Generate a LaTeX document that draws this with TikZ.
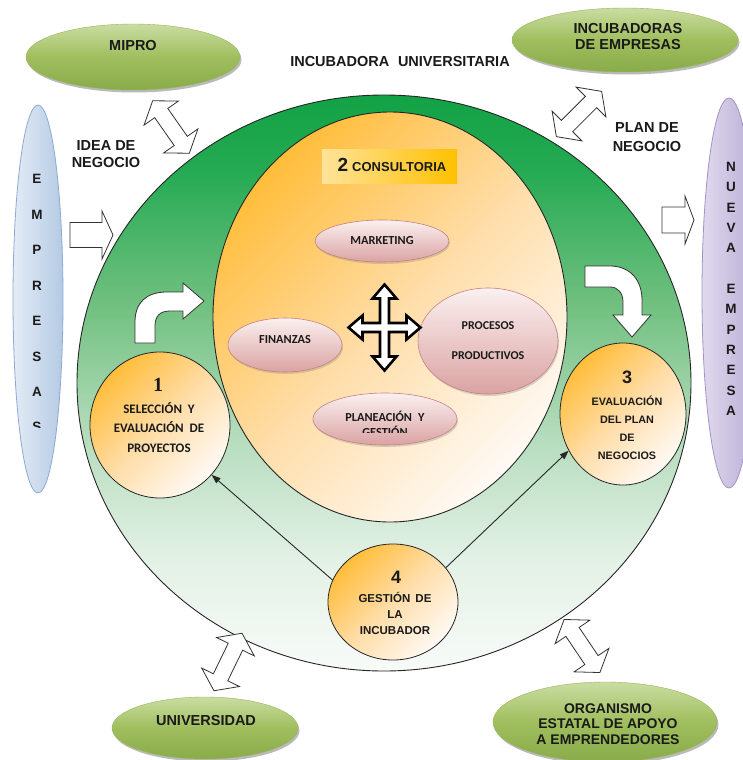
\documentclass[tikz,border=0pt]{standalone}
\usepackage{fontspec}
\setmainfont{Liberation Sans}
\newfontfamily\calfont{Carlito}
\newfontfamily\numserif{Liberation Serif}
\usetikzlibrary{shapes.geometric,shadows,arrows.meta}

% palette
\definecolor{ink}{HTML}{1A1A1A}
\definecolor{olT}{HTML}{CADDA2}
\definecolor{olM}{HTML}{A0BE5E}
\definecolor{olB}{HTML}{89AB48}
\definecolor{olLine}{HTML}{98B65A}
\definecolor{ringA}{HTML}{12A245}
\definecolor{ringB}{HTML}{25AA53}
\definecolor{ringC}{HTML}{6EBF7E}
\definecolor{ringD}{HTML}{B2DBBA}
\definecolor{ringE}{HTML}{E3F1E6}
\definecolor{ringF}{HTML}{F8FBF8}
\definecolor{orA}{HTML}{FFBD3A}
\definecolor{orM}{HTML}{FFDDA8}
\definecolor{orB}{HTML}{FFFAF5}
\definecolor{pkT}{HTML}{FBF0F0}
\definecolor{pkB}{HTML}{DAA3A2}
\definecolor{pkLine}{HTML}{C8807F}
\definecolor{bluT}{HTML}{E4ECF6}
\definecolor{bluB}{HTML}{B4CAE4}
\definecolor{bluLine}{HTML}{8DAAD2}
\definecolor{purT}{HTML}{E0DAEE}
\definecolor{purB}{HTML}{B9ADD5}
\definecolor{purLine}{HTML}{A293C6}
\definecolor{goldA}{HTML}{FFE39A}
\definecolor{goldB}{HTML}{FFC000}

% green ring: deep green on top fading to nearly white at the bottom
\pgfdeclareverticalshading{ringshade}{100bp}{%
  color(0bp)=(ringF); color(25bp)=(ringF); color(34.7bp)=(ringE);
  color(46bp)=(ringD); color(57.2bp)=(ringC); color(68.5bp)=(ringB);
  color(75bp)=(ringA); color(100bp)=(ringA)}

\begin{document}
\begin{tikzpicture}[x=1pt,y=-1pt,
  every node/.style={text=ink},
  partner/.style={ellipse, draw=olLine, line width=0.4pt, top color=olT, bottom color=olB, middle color=olM, inner sep=0pt,
    drop shadow={shadow xshift=1.5pt, shadow yshift=-2.5pt, opacity=0.45, fill=black!60}},
  stage/.style={ellipse, draw=black!85, line width=0.8pt, inner sep=0pt,
    top color=orA, bottom color=orB, middle color=orM, shading angle=45},
  topic/.style={ellipse, draw=pkLine, line width=0.6pt, inner sep=0pt, top color=pkT, bottom color=pkB,
    drop shadow={shadow xshift=1pt, shadow yshift=-2pt, opacity=0.3, fill=black!50}},
  biglabel/.style={font=\bfseries\fontsize{14.5}{16}\selectfont, align=center, inner sep=0pt},
  topiclabel/.style={font=\calfont\bfseries\fontsize{12.3}{14}\selectfont, align=center, inner sep=0pt},
  letters/.style={font=\bfseries\fontsize{13.5}{#1}\selectfont, align=center, inner sep=0pt},
  blockarrow/.style={draw=black!80, fill=white, line width=0.8pt, line join=miter},
  flow/.style={draw=black!85, line width=0.9pt, -{Triangle[length=9pt,width=6.5pt]}},
  pics/dblarrow/.style={code={
    \draw[blockarrow] (-32,0) -- (-17,-21) -- (-17,-8) -- (17,-8) -- (17,-21) -- (32,0)
      -- (17,21) -- (17,8) -- (-17,8) -- (-17,21) -- cycle;}}
]
\useasboundingbox[fill=white] (0,0) rectangle (743,760);

% incubator ring and consulting core
\node[ellipse, draw=black!85, line width=0.9pt, minimum width=614pt, minimum height=576pt,
  inner sep=0pt, shade, shading=ringshade] (ring) at (384,383) {};
\node[ellipse, draw=black!85, line width=0.9pt, minimum width=354pt, minimum height=410pt,
  inner sep=0pt, top color=orA, bottom color=orB, middle color=orM, shading angle=45] (core) at (390,317) {};

% consulting title bar
\node[left color=goldA, right color=goldB, minimum width=135pt, minimum height=34pt, inner sep=0pt] (cbox) at (389.5,166) {};
\node[font=\bfseries, inner sep=0pt] (ctxt) at (392,165)
  {{\fontsize{19}{20}\selectfont 2}\hspace{4pt}{\fontsize{13}{14}\selectfont CONSULTORIA}};

% consulting topics
\node[topic, minimum width=134pt, minimum height=42pt, topiclabel] (mkt) at (382,241) {MARKETING};
\node[topic, minimum width=114pt, minimum height=54pt] (fin) at (285,345) {};
\node[topiclabel] (fintxt) at (285,340) {FINANZAS};
\node[topic, minimum width=140pt, minimum height=106pt, font=\calfont\bfseries\fontsize{12}{30}\selectfont, align=center] (proc) at (488,341) {PROCESOS\\PRODUCTIVOS};
\node[topic, minimum width=144pt, minimum height=52pt] (plan) at (385,419) {};
\begin{scope}
  \clip (320,400) rectangle (450,432.5);
  \node[font=\calfont\bfseries\fontsize{12.3}{15}\selectfont, align=center, inner sep=0pt] (plantxt) at (385,423.5) {PLANEACIÓN\hspace{0.5em}Y\\GESTIÓN};
\end{scope}

% four-way arrow in the middle of the core
\coordinate (crossc) at (384.5,327.5);
\draw[shift={(crossc)}, draw=black, fill=white, line width=2.6pt, line join=miter]
  (36,0) -- (22,-12) -- (22,-4.5) -- (4.5,-4.5) -- (4.5,-29) -- (12,-29) -- (0,-43)
  -- (-12,-29) -- (-4.5,-29) -- (-4.5,-4.5) -- (-22,-4.5) -- (-22,-12) -- (-36,0)
  -- (-22,12) -- (-22,4.5) -- (-4.5,4.5) -- (-4.5,29) -- (-12,29) -- (0,43)
  -- (12,29) -- (4.5,29) -- (4.5,4.5) -- (22,4.5) -- (22,12) -- cycle;

% stages
\node[stage, minimum width=140pt, minimum height=146pt] (sel) at (160,425) {};
\node[font=\numserif\bfseries\fontsize{20}{20}\selectfont, inner sep=0pt] (selnum) at (158,385) {1};
\node[font=\calfont\bfseries\fontsize{13}{19.5}\selectfont, align=center, inner sep=0pt] (seltxt) at (159,427.5)
  {SELECCIÓN\hspace{0.45em}Y\\EVALUACIÓN\hspace{0.45em}DE\\PROYECTOS};

\node[stage, minimum width=126pt, minimum height=142pt] (eval) at (623,414) {};
\node[font=\bfseries\fontsize{18}{18}\selectfont, inner sep=0pt] (evalnum) at (627,377) {3};
\node[font=\bfseries\fontsize{10.8}{18}\selectfont, align=center, inner sep=0pt] (evaltxt) at (627,428)
  {EVALUACIÓN\\DEL PLAN\\DE\\NEGOCIOS};

\node[stage, minimum width=130pt, minimum height=116pt] (gest) at (393,602) {};
\node[font=\bfseries\fontsize{18}{18}\selectfont, inner sep=0pt] (gestnum) at (396,577) {4};
\node[font=\bfseries\fontsize{11.5}{16}\selectfont, align=center, inner sep=0pt] (gesttxt) at (395,613)
  {GESTIÓN\hspace{0.45em}DE\\LA\\INCUBADOR};

% management feeds selection and evaluation
\draw[flow] (gest.160) -- (sel.-44);
\draw[flow] (gest.33) -- (eval.-146);

% turning arrows inside the ring
\draw[blockarrow] (135,343) -- (135,322) .. controls (135,302) and (147,292) .. (167,292)
  -- (183,292) -- (183,283) -- (204,301) -- (183,319) -- (183,311) -- (170,311)
  .. controls (160,311) and (155,316) .. (155,326) -- (155,343) -- cycle;
\draw[blockarrow] (585,266) -- (610,266) .. controls (630,266) and (642,280) .. (642,300)
  -- (642,315) -- (651,315) -- (632,337) -- (613,315) -- (623,315) -- (623,302)
  .. controls (623,293) and (618,287) .. (610,287) -- (585,287) -- cycle;

% entry and exit arrows
\draw[blockarrow] (70,222.5) -- (102,222.5) -- (102,211) -- (113,235) -- (102,259) -- (102,247.5) -- (70,247.5) -- cycle;
\draw[blockarrow] (662,207) -- (685,207) -- (685,196) -- (694,220) -- (685,244) -- (685,233) -- (662,233) -- cycle;

% exchanges with outside partners
\pic[rotate=-55] at (171,127) {dblarrow};
\pic[rotate=45] at (579,114) {dblarrow};
\pic[rotate=64] at (228,662) {dblarrow};
\pic[rotate=-56] at (582,646) {dblarrow};

% outside partners
\node[partner, minimum width=214pt, minimum height=66pt] (mipro) at (133,57) {};
\node[biglabel] (miprotxt) at (133,46) {MIPRO};
\node[partner, minimum width=226pt, minimum height=64pt] (incub) at (625,40) {};
\node[biglabel] (incubtxt) at (628,37) {INCUBADORAS\\DE EMPRESAS};
\node[partner, minimum width=186pt, minimum height=62pt] (univ) at (205,728) {};
\node[biglabel] (univtxt) at (206,720) {UNIVERSIDAD};
\node[partner, minimum width=224pt, minimum height=80pt] (org) at (605,722) {};
\node[biglabel, font=\bfseries\fontsize{14}{15.5}\selectfont] (orgtxt) at (608,724) {ORGANISMO\\ESTATAL DE APOYO\\A EMPRENDEDORES};

% entering companies and the new company
\node[ellipse, draw=bluLine, line width=0.8pt, top color=bluT, bottom color=bluB, shading angle=90,
  minimum width=50pt, minimum height=388pt, inner sep=0pt] (emp) at (38,299) {};
\node[letters=35.5] (emptxt) at (37,285.5) {E\\M\\P\\R\\E\\S\\A};
\begin{scope}
  \clip (15,410) rectangle (60,427);
  \node[letters=14] (emplast) at (37,426.5) {S};
\end{scope}
\node[ellipse, draw=purLine, line width=0.8pt, top color=purT, bottom color=purB, shading angle=90,
  minimum width=54pt, minimum height=390pt, inner sep=0pt] (nueva) at (729,293) {};
\node[letters=20.33] (nuevatxt) at (731,289) {N\\U\\E\\V\\A\\\mbox{}\\E\\M\\P\\R\\E\\S\\A};

% free labels
\node[biglabel] (title) at (400,62) {INCUBADORA\hspace{0.6em}UNIVERSITARIA};
\node[biglabel, font=\bfseries\fontsize{14.5}{17}\selectfont] (idea) at (106,154.5) {IDEA DE\\NEGOCIO};
\node[biglabel, font=\bfseries\fontsize{14.5}{19}\selectfont] (plantitle) at (647,137.5) {PLAN DE\\NEGOCIO};
\end{tikzpicture}
\end{document}
